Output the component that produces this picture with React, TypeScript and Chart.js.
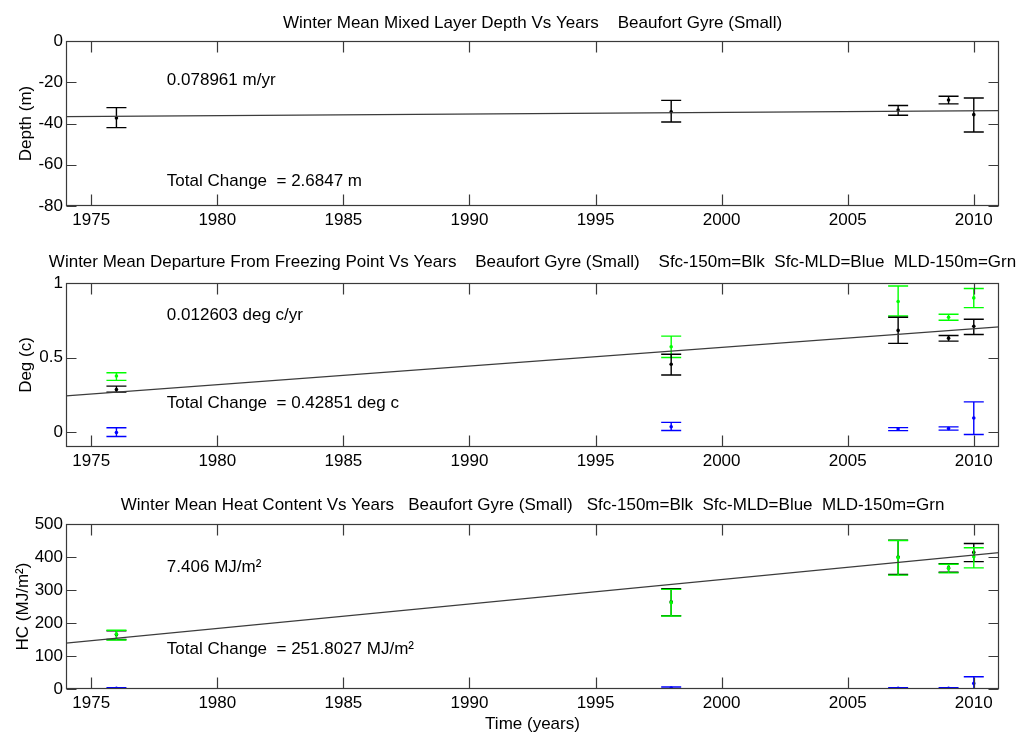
import React, { useEffect, useRef } from "react";
import { Chart, registerables } from "chart.js";

Chart.register(...registerables);

// ---------- data ----------
const years = [1976, 1998, 2007, 2009, 2010];
const trendYears = [1974, 2011];
const xTickValues = [1975, 1980, 1985, 1990, 1995, 2000, 2005, 2010];

// Panel 1: Mixed layer depth (m)
const mldMean = [-37.3, -34.3, -33.5, -28.6, -35.7];
const mldUpper = [-32.3, -28.8, -31.3, -26.8, -27.6];
const mldLower = [-42.0, -39.3, -36.0, -30.5, -44.1];
const mldTrend = [-36.7, -33.8];
const mldTicks = [-80, -60, -40, -20, 0];

// Panel 2: Departure from freezing point (deg C)
const degBlkMean = [0.285, 0.455, 0.682, 0.63, 0.71];
const degBlkUpper = [0.308, 0.522, 0.77, 0.648, 0.757];
const degBlkLower = [0.268, 0.383, 0.595, 0.61, 0.655];
const degBluMean = [-0.003, 0.036, 0.02, 0.024, 0.095];
const degBluUpper = [0.029, 0.065, 0.03, 0.035, 0.203];
const degBluLower = [-0.03, 0.011, 0.01, 0.013, -0.016];
const degGrnMean = [0.376, 0.572, 0.876, 0.77, 0.9];
const degGrnUpper = [0.398, 0.644, 0.98, 0.79, 0.963];
const degGrnLower = [0.347, 0.5, 0.779, 0.75, 0.835];
const degTrend = [0.243, 0.706];
const degTicks = [0, 0.5, 1];

// Panel 3: Heat content (MJ/m^2)
const hcBlkMean = [165, 264, 400, 367, 414];
const hcBlkUpper = [176, 304, 451, 380, 441];
const hcBlkLower = [150, 222, 347, 354, 386];
const hcBluMean = [2, 3, 2, 2, 17];
const hcBluUpper = [4, 6, 4, 4, 37];
const hcBluLower = [0, 0, 0, 0, -3];
const hcGrnMean = [166.7, 261.6, 398, 365.6, 401];
const hcGrnUpper = [178, 302, 450, 378, 428];
const hcGrnLower = [148.5, 221, 345, 352, 367];
const hcTrend = [139, 413];
const hcTicks = [0, 100, 200, 300, 400, 500];

// ---------- styling ----------
const FONT_FAMILY = "'Liberation Sans', Arial, Helvetica, sans-serif";
const FONT_SIZE = 17;
const BLACK = "#000000";
const BLUE = "#0000ff";
const GREEN = "#00ff00";
const AXIS = "#3a3a3a";

type Series = { color: string; mean: number[]; upper: number[]; lower: number[] };
type Note = { x: number; y: number; text: string };
type Panel = {
  top: number;
  height: number;
  areaTop: number;
  areaBottom: number;
  titleGap: number;
  title: string;
  yMin: number;
  yMax: number;
  yTicks: number[];
  yTitle: string;
  yTitlePad: number;
  xTitle?: string;
  series: Series[];
  trend: number[];
  notes: Note[];
};

const panels: Panel[] = [
  {
    top: 0,
    height: 240,
    areaTop: 41,
    areaBottom: 206,
    titleGap: 13,
    title: "Winter Mean Mixed Layer Depth Vs Years    Beaufort Gyre (Small)",
    yMin: -80,
    yMax: 0,
    yTicks: mldTicks,
    yTitle: "Depth (m)",
    yTitlePad: 16,
    series: [{ color: BLACK, mean: mldMean, upper: mldUpper, lower: mldLower }],
    trend: mldTrend,
    notes: [
      { x: 1978, y: -19, text: "0.078961 m/yr" },
      { x: 1978, y: -68, text: "Total Change  = 2.6847 m" },
    ],
  },
  {
    top: 240,
    height: 240,
    areaTop: 43,
    areaBottom: 207,
    titleGap: 16,
    title:
      "Winter Mean Departure From Freezing Point Vs Years    Beaufort Gyre (Small)    Sfc-150m=Blk  Sfc-MLD=Blue  MLD-150m=Grn",
    yMin: -0.1,
    yMax: 1,
    yTicks: degTicks,
    yTitle: "Deg (c)",
    yTitlePad: 16,
    series: [
      { color: BLUE, mean: degBluMean, upper: degBluUpper, lower: degBluLower },
      { color: GREEN, mean: degGrnMean, upper: degGrnUpper, lower: degGrnLower },
      { color: BLACK, mean: degBlkMean, upper: degBlkUpper, lower: degBlkLower },
    ],
    trend: degTrend,
    notes: [
      { x: 1978, y: 0.786, text: "0.012603 deg c/yr" },
      { x: 1978, y: 0.193, text: "Total Change  = 0.42851 deg c" },
    ],
  },
  {
    top: 480,
    height: 258,
    areaTop: 44,
    areaBottom: 209,
    titleGap: 14,
    title:
      "Winter Mean Heat Content Vs Years   Beaufort Gyre (Small)   Sfc-150m=Blk  Sfc-MLD=Blue  MLD-150m=Grn",
    yMin: 0,
    yMax: 500,
    yTicks: hcTicks,
    yTitle: "HC (MJ/m²)",
    yTitlePad: 13,
    xTitle: "Time (years)",
    series: [
      { color: BLUE, mean: hcBluMean, upper: hcBluUpper, lower: hcBluLower },
      { color: BLACK, mean: hcBlkMean, upper: hcBlkUpper, lower: hcBlkLower },
      { color: GREEN, mean: hcGrnMean, upper: hcGrnUpper, lower: hcGrnLower },
    ],
    trend: hcTrend,
    notes: [
      { x: 1978, y: 369, text: "7.406 MJ/m²" },
      { x: 1978, y: 120, text: "Total Change  = 251.8027 MJ/m²" },
    ],
  },
];

// ---------- plugins ----------
const errorBarPlugin = {
  id: "errorBars",
  beforeDatasetDraw(chart: any, args: any) {
    const ds = chart.data.datasets[args.index];
    if (!ds.errUpper) return;
    const { ctx, chartArea: a } = chart;
    const xs = chart.scales.x;
    const ys = chart.scales.y;
    ctx.save();
    ctx.beginPath();
    ctx.rect(a.left, a.top, a.right - a.left, a.bottom - a.top);
    ctx.clip();
    ctx.strokeStyle = ds.borderColor;
    ctx.lineWidth = 1.4;
    ds.data.forEach((p: any, i: number) => {
      const x = xs.getPixelForValue(p.x);
      const y1 = ys.getPixelForValue(ds.errUpper[i]);
      const y2 = ys.getPixelForValue(ds.errLower[i]);
      ctx.beginPath();
      ctx.moveTo(x, y1);
      ctx.lineTo(x, y2);
      ctx.moveTo(x - 10, y1);
      ctx.lineTo(x + 10, y1);
      ctx.moveTo(x - 10, y2);
      ctx.lineTo(x + 10, y2);
      ctx.stroke();
    });
    ctx.restore();
  },
};

const framePlugin = {
  id: "frame",
  afterDatasetsDraw(chart: any) {
    const { ctx, chartArea: a } = chart;
    const xs = chart.scales.x;
    const ys = chart.scales.y;
    ctx.save();
    ctx.strokeStyle = AXIS;
    ctx.lineWidth = 1.2;
    const L = Math.round(a.left) + 0.5;
    const R = Math.round(a.right) - 0.5;
    const T = Math.round(a.top) + 0.5;
    const B = Math.round(a.bottom) - 0.5;
    ctx.strokeRect(L, T, R - L, B - T);
    ctx.beginPath();
    xs.ticks.forEach((t: any) => {
      const px = Math.round(xs.getPixelForValue(t.value)) + 0.5;
      ctx.moveTo(px, B);
      ctx.lineTo(px, B - 11);
      ctx.moveTo(px, T);
      ctx.lineTo(px, T + 11);
    });
    ys.ticks.forEach((t: any) => {
      const py = Math.round(ys.getPixelForValue(t.value)) + 0.5;
      ctx.moveTo(L, py);
      ctx.lineTo(L + 10, py);
      ctx.moveTo(R, py);
      ctx.lineTo(R - 10, py);
    });
    ctx.stroke();
    ctx.restore();
  },
};

const textPlugin = {
  id: "panelText",
  afterDraw(chart: any, _args: any, opts: any) {
    const { ctx, chartArea: a } = chart;
    const xs = chart.scales.x;
    const ys = chart.scales.y;
    ctx.save();
    ctx.fillStyle = "#000";
    ctx.font = `${FONT_SIZE}px ${FONT_FAMILY}`;
    ctx.textAlign = "center";
    ctx.textBaseline = "alphabetic";
    ctx.fillText(opts.title, (a.left + a.right) / 2, a.top - opts.titleGap);
    ctx.textAlign = "left";
    ctx.textBaseline = "middle";
    (opts.notes as Note[]).forEach((n) => {
      ctx.fillText(n.text, xs.getPixelForValue(n.x), ys.getPixelForValue(n.y));
    });
    ctx.restore();
  },
};

function PanelChart({ panel }: { panel: Panel }) {
  const ref = useRef<HTMLCanvasElement | null>(null);
  useEffect(() => {
    if (!ref.current) return;
    const font = { family: FONT_FAMILY, size: FONT_SIZE };
    const datasets: any[] = [
      {
        type: "line",
        data: trendYears.map((x, i) => ({ x, y: panel.trend[i] })),
        borderColor: "#3c3c3c",
        borderWidth: 1.3,
        pointRadius: 0,
        fill: false,
      },
      ...panel.series
        .slice()
        .reverse()
        .map((s) => ({
          type: "scatter",
          data: years.map((x, i) => ({ x, y: s.mean[i] })),
          errUpper: s.upper,
          errLower: s.lower,
          borderColor: s.color,
          backgroundColor: s.color,
          pointRadius: 1.8,
          pointBorderWidth: 0,
          showLine: false,
        })),
    ];
    const chart = new Chart(ref.current, {
      type: "scatter",
      data: { datasets },
      plugins: [errorBarPlugin, framePlugin, textPlugin],
      options: {
        responsive: false,
        animation: false,
        events: [],
        layout: { padding: { top: panel.areaTop, left: 0, right: 22, bottom: 0 } },
        plugins: {
          legend: { display: false },
          tooltip: { enabled: false },
          title: { display: false },
          panelText: { title: panel.title, titleGap: panel.titleGap, notes: panel.notes },
        } as any,
        scales: {
          x: {
            type: "linear",
            min: 1974,
            max: 2011,
            grid: { display: false, drawTicks: false },
            border: { display: false },
            afterBuildTicks: (s: any) => {
              s.ticks = xTickValues.map((v) => ({ value: v }));
            },
            afterFit: (s: any) => {
              s.height = panel.height - panel.areaBottom;
            },
            ticks: {
              font,
              color: "#000",
              padding: 4,
              maxRotation: 0,
              autoSkip: false,
              callback: (v: any) => String(v),
            },
            title: panel.xTitle
              ? { display: true, text: panel.xTitle, font, color: "#000", padding: { top: 0, bottom: 3 } }
              : { display: false },
          },
          y: {
            type: "linear",
            min: panel.yMin,
            max: panel.yMax,
            grid: { display: false, drawTicks: false },
            border: { display: false },
            afterBuildTicks: (s: any) => {
              s.ticks = panel.yTicks.map((v) => ({ value: v }));
            },
            afterFit: (s: any) => {
              s.width = 66;
            },
            ticks: {
              font,
              color: "#000",
              padding: 3,
              autoSkip: false,
              callback: (v: any) => String(v),
            },
            title: {
              display: true,
              text: panel.yTitle,
              font,
              color: "#000",
              padding: { top: panel.yTitlePad, bottom: 0 },
            },
          },
        },
      } as any,
    });
    return () => chart.destroy();
  }, [panel]);
  return (
    <canvas
      ref={ref}
      width={1021}
      height={panel.height}
      style={{ position: "absolute", left: 0, top: panel.top, width: 1021, height: panel.height }}
    />
  );
}

export default function App() {
  return (
    <div
      style={{
        position: "absolute",
        left: 0,
        top: 0,
        width: 1021,
        height: 738,
        background: "#ffffff",
        overflow: "hidden",
      }}
    >
      {panels.map((p, i) => (
        <PanelChart key={i} panel={p} />
      ))}
    </div>
  );
}
